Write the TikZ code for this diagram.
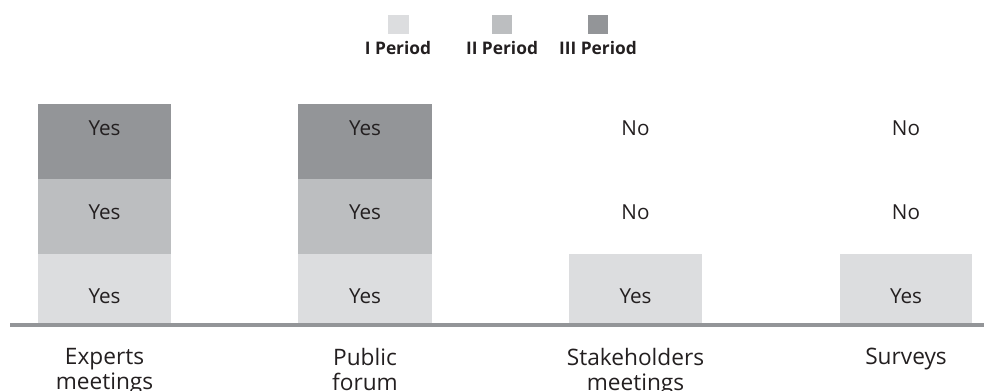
\documentclass[tikz,border=0pt]{standalone}
\usepackage{fontspec}
\setmainfont{Open Sans}
\definecolor{pI}{HTML}{DCDDDF}
\definecolor{pII}{HTML}{BCBEC0}
\definecolor{pIII}{HTML}{939598}
\definecolor{axisc}{HTML}{939598}
\definecolor{txt}{HTML}{231F20}
\begin{document}
\begin{tikzpicture}[x=0.75pt,y=-0.75pt,
  cell/.style={draw=none,inner sep=0pt,text=txt,font=\fontsize{15.5}{17}\selectfont},
  leg/.style={inner sep=0pt,text=txt,font=\fontsize{13}{15}\selectfont\bfseries},
  cat/.style={inner sep=0pt,text=txt,align=center,font=\fontsize{17}{19}\selectfont}]
\useasboundingbox (0,0) rectangle (984,391);
\clip (0,0) rectangle (984,391);
% legend
\fill[pI] (388,15) rectangle (409,34);
\fill[pII] (492,15) rectangle (512,34);
\fill[pIII] (588,15) rectangle (608,34);
\node[leg] (l1) at (398,48) {I Period};
\node[leg] (l2) at (502,48) {II Period};
\node[leg] (l3) at (598,48) {III Period};
% bars
\fill[pIII] (38,104) rectangle (171,179);
\fill[pII] (38,179) rectangle (171,254);
\fill[pI] (38,254) rectangle (171,323);
\fill[pIII] (298,104) rectangle (432,179);
\fill[pII] (298,179) rectangle (432,254);
\fill[pI] (298,254) rectangle (432,323);
\fill[pI] (569,254) rectangle (702,323);
\fill[pI] (840,254) rectangle (972,323);
% cell texts
\node[cell] (e3) at (104.5,128) {Yes};
\node[cell] (e2) at (104.5,212) {Yes};
\node[cell] (e1) at (104.5,296) {Yes};
\node[cell] (p3) at (365,128) {Yes};
\node[cell] (p2) at (365,212) {Yes};
\node[cell] (p1) at (365,296) {Yes};
\node[cell] (s3) at (635.5,128) {No};
\node[cell] (s2) at (635.5,212) {No};
\node[cell] (s1) at (635.5,296) {Yes};
\node[cell] (u3) at (906,128) {No};
\node[cell] (u2) at (906,212) {No};
\node[cell] (u1) at (906,296) {Yes};
% axis
\draw[axisc,line width=3pt] (10,325) -- (984,325);
% categories
\node[cat,anchor=north] (ce) at (104.5,348) {Experts\\meetings};
\node[cat,anchor=north] (cp) at (365,348) {Public\\forum};
\node[cat,anchor=north] (cs) at (635.5,348) {Stakeholders\\meetings};
\node[cat,anchor=north] (cu) at (906,348) {Surveys};
\end{tikzpicture}
\end{document}
